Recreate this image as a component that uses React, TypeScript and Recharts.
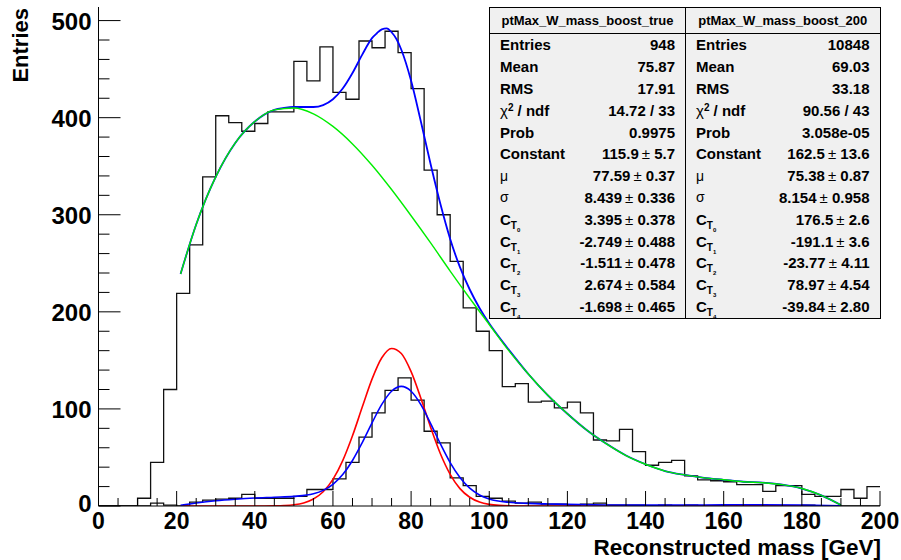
import React from 'react';
import { LineChart, Line, XAxis, YAxis } from 'recharts';

const FONT = '"Liberation Sans", Arial, Helvetica, sans-serif';
const BIN_WIDTH = 200 / 60;

// ptMax_W_mass_boost_200 histogram (60 bins of 3.33 GeV)
const bigCounts = [
  0, 0, 0, 8, 45, 120, 219, 269, 339, 402,
  395, 386, 394, 406, 406, 458, 438, 473, 426, 419,
  479, 472, 489, 467, 430, 346, 300, 252, 204, 180,
  160, 123, 126, 107, 108, 101, 107, 96, 68, 67,
  79, 56, 42, 45, 47, 31, 27, 26, 25, 22,
  22, 15, 21, 21, 12, 10, 10, 17, 8, 20,
];

// ptMax_W_mass_boost_true histogram
const smallCounts = [
  0, 0, 0, 0, 3, 1, 0, 4, 6, 7,
  8, 12, 8, 8, 8, 10, 17, 17, 28, 45,
  71, 96, 119, 132, 109, 77, 65, 29, 21, 10,
  8, 5, 3, 4, 2, 2, 1, 2, 3, 1,
  1, 1, 0, 1, 0, 1, 0, 0, 1, 0,
  1, 0, 0, 0, 1, 0, 0, 0, 0, 0,
];

// green: background fit of boost_200
const greenX = [21, 25, 30, 35, 40, 45, 50, 55, 60, 65, 70, 75, 80, 85, 90, 95, 100, 105, 110, 115, 120, 125, 130, 135, 140, 145, 150, 155, 160, 165, 170, 175, 180, 185, 190];
const greenY = [239, 290, 339, 374, 396, 408, 410, 404, 391, 373, 351, 326, 299, 271, 242, 214, 187, 160, 136, 114, 95, 78, 64, 52, 43, 36, 32, 29, 27, 25, 24, 22, 18, 11, 1];

// blue: full fit of boost_200
const blueBigX = [21, 25, 30, 35, 40, 45, 47.5, 50, 52.5, 55, 57.5, 60, 62.5, 65, 67.5, 70, 71.25, 72.5, 73.75, 75, 76.25, 77.5, 80, 82.5, 85, 87.5, 90, 92.5, 95, 97.5, 100, 102.5, 105, 110, 115, 120, 125, 130, 135, 140, 145, 150, 155, 160, 165, 170, 175, 180, 185, 190];
const blueBigY = [239, 290, 339, 374, 396, 408, 410, 411, 411, 411, 413, 419, 430, 446, 465, 482, 487, 491, 492, 488, 481, 470, 438, 396, 352, 311, 275, 246, 223, 204, 188, 174, 161, 136, 114, 95, 78, 64, 52, 43, 36, 32, 29, 27, 25, 24, 22, 18, 11, 1];

// red: signal gaussian of boost_200 fit
const redX = [21, 30, 40, 45, 47.5, 50, 52.5, 55, 57.5, 60, 62.5, 65, 67.5, 70, 72.5, 75, 77.5, 80, 82.5, 85, 87.5, 90, 92.5, 95, 97.5, 100, 102.5, 105, 110, 120, 140, 160, 190];
const redY = [0, 0, 0, 0.2, 0.5, 1.3, 3.2, 7.2, 14.7, 27.4, 46.7, 72.3, 101.9, 130.7, 152.7, 162.3, 157.1, 138.4, 111, 81, 53.8, 32.6, 17.9, 9, 4.1, 1.7, 0.6, 0.2, 0, 0, 0, 0, 0];

// blue: full fit of boost_true
const blueSmallX = [21, 25, 30, 35, 40, 45, 50, 55, 57.5, 60, 62.5, 65, 67.5, 70, 72.5, 75, 77.5, 80, 82.5, 85, 87.5, 90, 92.5, 95, 97.5, 100, 105, 110, 115, 120, 130, 140, 150, 160, 170, 180, 190];
const blueSmallY = [0.8, 3.1, 5.4, 7.0, 8.2, 9.0, 9.9, 12.6, 16.1, 22.4, 32.4, 46.9, 65.3, 85.6, 104.6, 118.2, 123.2, 118.2, 104.4, 84.9, 64.0, 44.7, 29.3, 18.4, 11.4, 7.3, 3.8, 2.7, 2.1, 1.7, 1.1, 0.9, 1.0, 1.2, 1.3, 1.0, 0.1];

const xTicks = Array.from({ length: 41 }, (_, i) => i * 5);
const yTicks = Array.from({ length: 26 }, (_, i) => i * 20);

const statsTrue = {
  title: 'ptMax_W_mass_boost_true',
  rows: [
    ['Entries', '948'],
    ['Mean', '75.87'],
    ['RMS', '17.91'],
    ['chi', '14.72 / 33'],
    ['Prob', '0.9975'],
    ['Constant', '115.9', '5.7'],
    ['mu', '77.59', '0.37'],
    ['sigma', '8.439', '0.336'],
    ['C0', '3.395', '0.378'],
    ['C1', '-2.749', '0.488'],
    ['C2', '-1.511', '0.478'],
    ['C3', '2.674', '0.584'],
    ['C4', '-1.698', '0.465'],
  ],
};
const stats200 = {
  title: 'ptMax_W_mass_boost_200',
  rows: [
    ['Entries', '10848'],
    ['Mean', '69.03'],
    ['RMS', '33.18'],
    ['chi', '90.56 / 43'],
    ['Prob', '3.058e-05'],
    ['Constant', '162.5', '13.6'],
    ['mu', '75.38', '0.87'],
    ['sigma', '8.154', '0.958'],
    ['C0', '176.5', '2.6'],
    ['C1', '-191.1', '3.6'],
    ['C2', '-23.77', '4.11'],
    ['C3', '78.97', '4.54'],
    ['C4', '-39.84', '2.80'],
  ],
};

const histData = Array.from({ length: 61 }, (_, i) => ({
  x: i * BIN_WIDTH,
  big: bigCounts[Math.min(i, 59)],
  small: smallCounts[Math.min(i, 59)],
}));
const toSeries = (xs: number[], ys: number[]) => xs.map((x, i) => ({ x, y: ys[i] }));

const XTick = (props: any) => {
  const { x, y, payload } = props;
  const v = Math.round(payload.value);
  const major = v % 20 === 0;
  return (
    <g>
      <line x1={x} y1={y} x2={x} y2={y - (major ? 15 : 8)} stroke="#000" strokeWidth={1} />
      {major && (
        <text x={x} y={y + 23} textAnchor="middle" fontSize={23} fontWeight="bold" fontFamily={FONT} fill="#000">
          {v}
        </text>
      )}
    </g>
  );
};

const YTick = (props: any) => {
  const { x, y, payload } = props;
  const v = Math.round(payload.value);
  const major = v % 100 === 0;
  return (
    <g>
      <line x1={x} y1={y} x2={x + (major ? 22 : 11)} y2={y} stroke="#000" strokeWidth={1} />
      {major && (
        <text x={x - 7} y={y + (v === 0 ? 6 : 9)} textAnchor="end" fontSize={24} fontWeight="bold" fontFamily={FONT} fill="#000">
          {v}
        </text>
      )}
    </g>
  );
};

const Label = ({ k }: { k: string }) => {
  if (k === 'chi')
    return (
      <span>
        <span style={{ fontWeight: 400 }}>χ</span>
        <span style={{ fontSize: 10, verticalAlign: 5 }}>2</span> / ndf
      </span>
    );
  if (k === 'mu') return <span style={{ fontWeight: 400, fontSize: 14 }}>μ</span>;
  if (k === 'sigma') return <span style={{ fontWeight: 400, fontSize: 14 }}>σ</span>;
  if (k.length === 2 && k[0] === 'C')
    return (
      <span>
        C
        <span style={{ fontSize: 10, position: 'relative', top: 4 }}>
          T<span style={{ fontSize: 6, position: 'relative', top: 3 }}>{k[1]}</span>
        </span>
      </span>
    );
  return <span>{k}</span>;
};

const StatsBox = ({ data, left, width }: { data: any; left: number; width: number }) => (
  <div
    style={{
      position: 'absolute',
      left,
      top: 7,
      width,
      height: 312,
      boxSizing: 'border-box',
      border: '1px solid #000',
      background: '#f0f0f0',
      fontFamily: FONT,
      color: '#000',
    }}
  >
    <div
      style={{
        height: 26,
        borderBottom: '1px solid #000',
        boxSizing: 'border-box',
        textAlign: 'center',
        fontSize: 13,
        fontWeight: 'bold',
        lineHeight: '26px',
      }}
    >
      {data.title}
    </div>
    {data.rows.map((r: string[], i: number) => (
      <div
        key={i}
        style={{
          height: 21.8,
          display: 'flex',
          justifyContent: 'space-between',
          alignItems: 'center',
          padding: '0 10px 0 10px',
          fontSize: 15,
          fontWeight: 'bold',
          whiteSpace: 'nowrap',
        }}
      >
        <Label k={r[0]} />
        <span>
          {r[1]}
          {r.length > 2 && (
            <>
              <span style={{ fontWeight: 400 }}>{'\u2009±\u00a0'}</span>
              {r[2]}
            </>
          )}
        </span>
      </div>
    ))}
  </div>
);

export default function App() {
  return (
    <div style={{ position: 'fixed', left: 0, top: 0, width: 901, height: 560, background: '#fff' }}>
      <LineChart width={901} height={560} margin={{ top: 7, right: 21, bottom: 0, left: 0 }}>
        <XAxis
          xAxisId={0}
          type="number"
          dataKey="x"
          domain={[0, 200]}
          ticks={xTicks}
          interval={0}
          tickSize={0}
          tickMargin={0}
          tick={<XTick />}
          axisLine={{ stroke: '#000', strokeWidth: 1 }}
          tickLine={false}
          height={54}
          allowDataOverflow
        />
        <XAxis
          xAxisId="top"
          orientation="top"
          type="number"
          domain={[0, 200]}
          tick={false}
          tickLine={false}
          axisLine={{ stroke: '#000', strokeWidth: 1 }}
          height={0}
        />
        <YAxis
          yAxisId={0}
          type="number"
          domain={[0, 514]}
          ticks={yTicks}
          interval={0}
          tickSize={0}
          tickMargin={0}
          tick={<YTick />}
          axisLine={{ stroke: '#000', strokeWidth: 1 }}
          tickLine={false}
          width={98.5}
          allowDataOverflow
        />
        <YAxis
          yAxisId="right"
          orientation="right"
          type="number"
          domain={[0, 514]}
          tick={false}
          tickLine={false}
          axisLine={{ stroke: '#000', strokeWidth: 1 }}
          width={0}
        />
        <Line data={histData} dataKey="big" type="stepAfter" stroke="#111" strokeWidth={1.3} dot={false} isAnimationActive={false} />
        <Line data={histData} dataKey="small" type="stepAfter" stroke="#111" strokeWidth={1.3} dot={false} isAnimationActive={false} />
        <Line data={toSeries(redX, redY)} dataKey="y" type="monotone" stroke="#ff0000" strokeWidth={1.6} dot={false} isAnimationActive={false} />
        <Line data={toSeries(blueSmallX, blueSmallY)} dataKey="y" type="monotone" stroke="#0000ff" strokeWidth={1.6} dot={false} isAnimationActive={false} />
        <Line data={toSeries(blueBigX, blueBigY)} dataKey="y" type="monotone" stroke="#0000ff" strokeWidth={1.8} dot={false} isAnimationActive={false} />
        <Line data={toSeries(greenX, greenY)} dataKey="y" type="monotone" stroke="#00ee00" strokeWidth={1.4} dot={false} isAnimationActive={false} />
      </LineChart>
      <StatsBox data={statsTrue} left={489} width={197} />
      <StatsBox data={stats200} left={685} width={195.5} />
      <svg width={901} height={560} style={{ position: 'absolute', left: 0, top: 0, pointerEvents: 'none' }}>
        <text x={881} y={555} textAnchor="end" fontSize={22.5} fontWeight="bold" fontFamily={FONT} fill="#000">
          Reconstructed mass [GeV]
        </text>
        <text
          transform="translate(28, 8) rotate(-90)"
          textAnchor="end"
          fontSize={22}
          fontWeight="bold"
          fontFamily={FONT}
          fill="#000"
        >
          Entries
        </text>
      </svg>
    </div>
  );
}
